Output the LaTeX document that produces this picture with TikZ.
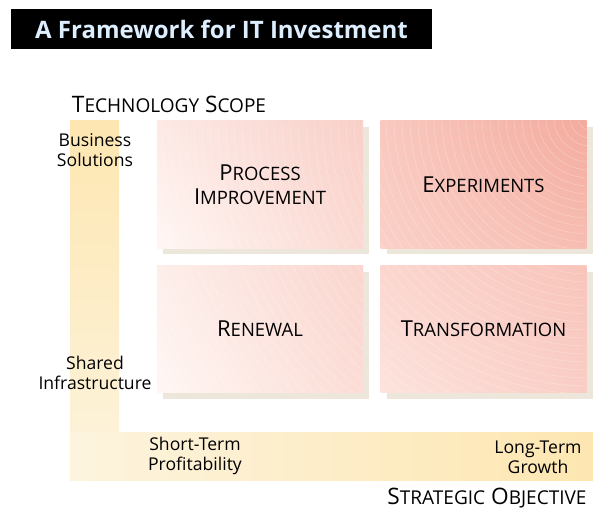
\documentclass[tikz,border=0pt]{standalone}
\usepackage{graphicx}
\usepackage{fontspec}
\setmainfont{Open Sans}
\usetikzlibrary{positioning,shadows,shadings}

\definecolor{barlight}{HTML}{FDF4DE}
\definecolor{bardark}{HTML}{FDE6B1}
\definecolor{shadowc}{HTML}{ECE7DA}
\definecolor{titletext}{HTML}{DDEEFF}
% quadrant corner colours
\definecolor{piUL}{HTML}{FDE9E5}\definecolor{piUR}{HTML}{F9CFC8}\definecolor{piLL}{HTML}{FFF7F4}\definecolor{piLR}{HTML}{FBD9D2}
\definecolor{exUL}{HTML}{F9C8BF}\definecolor{exUR}{HTML}{F4AB9E}\definecolor{exLL}{HTML}{FAD0C8}\definecolor{exLR}{HTML}{F7BDB2}
\definecolor{reUL}{HTML}{FDEEEA}\definecolor{reUR}{HTML}{FAD5CE}\definecolor{reLL}{HTML}{FFF7F4}\definecolor{reLR}{HTML}{FCDCD5}
\definecolor{trUL}{HTML}{FBD6CF}\definecolor{trUR}{HTML}{F8C4BA}\definecolor{trLL}{HTML}{FDE3DD}\definecolor{trLR}{HTML}{F9CDC5}

% fake small caps
\newcommand{\lc}[1]{\scalebox{0.84}{#1}}

\begin{document}
\begin{tikzpicture}[x=0.75pt, y=-0.75pt, node distance=12.75pt]
    \useasboundingbox (0,0) rectangle (593,510);

    % Define styles
    \tikzset{
      titlebar/.style={fill=black, text=titletext, minimum width=315.75pt, minimum height=30pt, inner sep=0pt, font=\bfseries\fontsize{18}{20}\selectfont},
      quad/.style={minimum width=154.5pt, minimum height=95.25pt, inner sep=0pt, drop shadow={shadow xshift=4.5pt, shadow yshift=-4.5pt, fill=shadowc, opacity=1}},
      quadtxt/.style={align=center, inner sep=0pt, font=\fontsize{16.5}{18}\selectfont},
      axislbl/.style={align=center, inner sep=0pt, font=\fontsize{13.2}{15}\selectfont},
      heading/.style={inner sep=0pt, font=\fontsize{17}{18}\selectfont},
    }

    \node[titlebar] (title) at (221.5,29) {A Framework for IT Investment};

    % axis bars
    \shade[top color=bardark, bottom color=barlight] (70,121) rectangle (119,480);
    \shade[left color=barlight, right color=bardark] (70,432) rectangle (593,480);

    % quadrants
    \node[quad, upper left=piUL, upper right=piUR, lower left=piLL, lower right=piLR] (procimp) at (260,184.5) {};
    \node[quad, right=of procimp, upper left=exUL, upper right=exUR, lower left=exLL, lower right=exLR] (exper) {};
    \node[quad, below=of procimp, upper left=reUL, upper right=reUR, lower left=reLL, lower right=reLR] (renew) {};
    \node[quad, right=of renew, upper left=trUL, upper right=trUR, lower left=trLL, lower right=trLR] (transf) {};

    % texture
    \begin{scope}
      \clip (procimp.south west) rectangle (procimp.north east)
            (exper.south west) rectangle (exper.north east)
            (renew.south west) rectangle (renew.north east)
            (transf.south west) rectangle (transf.north east);
      \foreach \r in {12,20,...,620}
        \draw[white, line width=0.3pt, opacity=0.35] (590,118) circle[radius=\r*0.75pt];
    \end{scope}
    \node[quadtxt] (procimptxt) at (procimp) {P\lc{ROCESS}\\I\lc{MPROVEMENT}};
    \node[quadtxt] (expertxt) at (exper) {E\lc{XPERIMENTS}};
    \node[quadtxt] (renewtxt) at (renew) {R\lc{ENEWAL}};
    \node[quadtxt] (transftxt) at (transf) {T\lc{RANSFORMATION}};

    % axis labels
    \node[heading] (scope) at (169,104) {T\lc{ECHNOLOGY} S\lc{COPE}};
    \node[heading] (objective) at (487,498) {S\lc{TRATEGIC} O\lc{BJECTIVE}};
    \node[axislbl] (busi) at (95,150) {Business\\Solutions};
    \node[axislbl] (shared) at (95,373) {Shared\\Infrastructure};
    \node[axislbl] (short) at (195,456) {Short-Term\\Profitability};
    \node[axislbl] (long) at (538,457) {Long-Term\\Growth};
\end{tikzpicture}
\end{document}
